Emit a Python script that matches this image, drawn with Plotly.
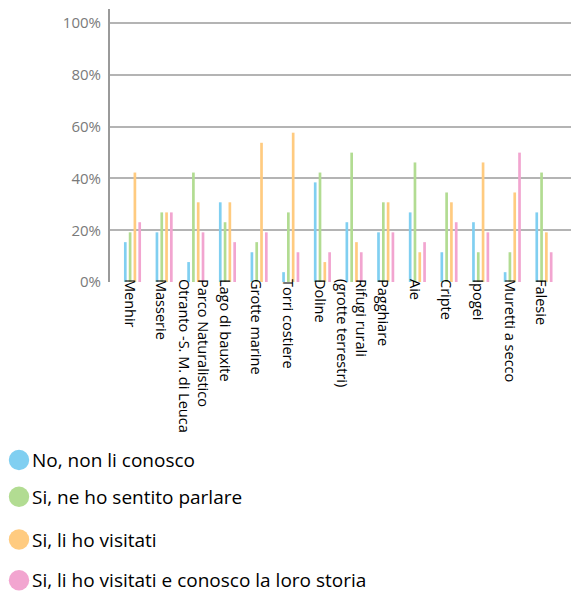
import plotly.graph_objects as go

# Places surveyed and share of answers (%) for each response
categories = [
    "Menhir", "Masserie", "Parco Naturalistico<br>Otranto -S. M. di Leuca",
    "Lago di bauxite", "Grotte marine", "Torri costiere", "Doline",
    "Rifugi rurali<br>(grotte terrestri)", "Pagghiare", "Aie", "Cripte",
    "Ipogei", "Muretti a secco", "Falesie",
]
series_names = [
    "No, non li conosco",
    "Si, ne ho sentito parlare",
    "Si, li ho visitati",
    "Si, li ho visitati e conosco la loro storia",
]
no_non_li_conosco = [15.4, 19.2, 7.7, 30.8, 11.5, 3.8, 38.5, 23.1, 19.2, 26.9, 11.5, 23.1, 3.8, 26.9]
si_sentito_parlare = [19.2, 26.9, 42.3, 23.1, 15.4, 26.9, 42.3, 50.0, 30.8, 46.2, 34.6, 11.5, 11.5, 42.3]
si_visitati = [42.3, 26.9, 30.8, 30.8, 53.8, 57.7, 7.7, 15.4, 30.8, 11.5, 30.8, 46.2, 34.6, 19.2]
si_visitati_storia = [23.1, 26.9, 19.2, 15.4, 19.2, 11.5, 11.5, 11.5, 19.2, 15.4, 23.1, 19.2, 50.0, 11.5]
y_tick_values = [0, 20, 40, 60, 80, 100]
y_tick_labels = ["0%", "20%", "40%", "60%", "80%", "100%"]

colors = ["#80CFF1", "#B2DC92", "#FFCB80", "#F2A5D0"]
values = [no_non_li_conosco, si_sentito_parlare, si_visitati, si_visitati_storia]

W, H = 571, 592
ML, MR, MT, MB = 110, 0, 9, 310
PW, PH = W - ML - MR, H - MT - MB

fig = go.Figure()
for name, vals, col in zip(series_names, values, colors):
    fig.add_trace(go.Bar(
        x=list(range(len(categories))), y=vals, name=name,
        marker=dict(color=col, line=dict(width=0)),
        showlegend=False,
    ))

# Legend drawn below the chart: coloured dot + label, positioned in pixels
legend_rows_px = [460, 496.7, 539.5, 580.3]
shapes, annotations = [], []
for name, col, py in zip(series_names, colors, legend_rows_px):
    cx, r = 19, 10.2
    shapes.append(dict(
        type="circle", xref="paper", yref="paper",
        x0=(cx - r - ML) / PW, x1=(cx + r - ML) / PW,
        y0=(H - MB - (py + r)) / PH, y1=(H - MB - (py - r)) / PH,
        fillcolor=col, line=dict(width=0), layer="above",
    ))
    annotations.append(dict(
        text=name, xref="paper", yref="paper",
        x=(30 - ML) / PW, y=(H - MB - py) / PH,
        xanchor="left", yanchor="middle", showarrow=False,
        font=dict(family="Open Sans", size=19, color="#000000"),
    ))

fig.update_layout(
    width=W, height=H,
    margin=dict(l=ML, r=MR, t=MT, b=MB, pad=0),
    plot_bgcolor="white", paper_bgcolor="white",
    barmode="group", bargap=0.393, bargroupgap=0.44,
    showlegend=False,
    shapes=shapes, annotations=annotations,
    font=dict(family="Open Sans"),
)
fig.update_xaxes(
    tickmode="array", tickvals=list(range(len(categories))), ticktext=categories,
    range=[-0.711, 13.854], tickangle=90,
    tickfont=dict(family="Open Sans", size=14.5, color="#000000"),
    showgrid=False, zeroline=False, showline=False, ticks="",
    ticklabelshift=-3, ticklabelstandoff=-4,
)
fig.update_yaxes(
    range=[0, 105.5], tickmode="array", tickvals=y_tick_values, ticktext=y_tick_labels,
    tickfont=dict(family="Open Sans", size=15, color="#7a7a7a"),
    showgrid=True, gridcolor="#b4b4b4", gridwidth=1.5,
    zeroline=False, showline=True, linecolor="#9a9a9a", linewidth=2,
    ticks="", ticklabelstandoff=4,
)

fig.write_html("out.html")
